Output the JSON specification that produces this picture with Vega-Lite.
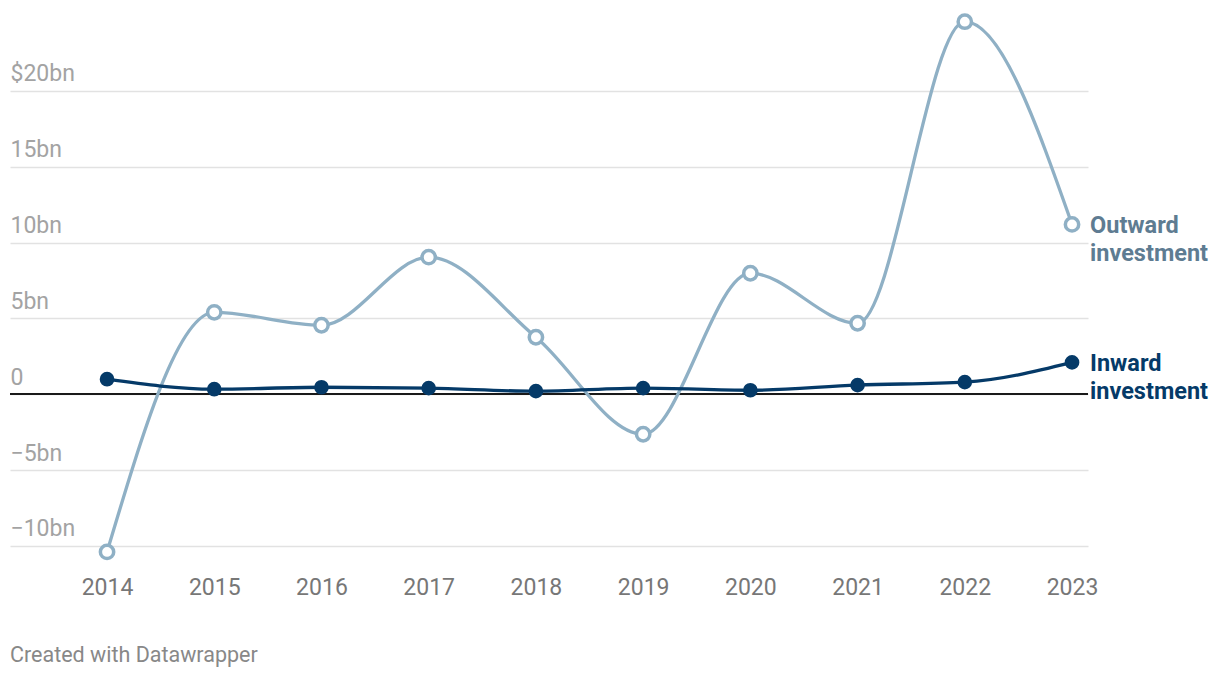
{
  "$schema": "https://vega.github.io/schema/vega-lite/v6.json",
  "width": 1078,
  "height": 561,
  "autosize": {"type": "none"},
  "padding": {"left": 10, "top": 0, "right": 132, "bottom": 117},
  "background": "white",
  "config": {
    "font": "Roboto",
    "view": {"stroke": null}
  },
  "title": {
    "text": "Created with Datawrapper",
    "orient": "bottom",
    "anchor": "start",
    "frame": "group",
    "font": "Roboto",
    "fontSize": 21.5,
    "fontWeight": "normal",
    "color": "#888888",
    "baseline": "top",
    "offset": 46
  },
  "data": {
    "values": [
      {"year": 2014, "series": "Outward investment", "value": -10.4},
      {"year": 2015, "series": "Outward investment", "value": 5.4},
      {"year": 2016, "series": "Outward investment", "value": 4.55},
      {"year": 2017, "series": "Outward investment", "value": 9.04},
      {"year": 2018, "series": "Outward investment", "value": 3.76},
      {"year": 2019, "series": "Outward investment", "value": -2.64},
      {"year": 2020, "series": "Outward investment", "value": 7.98},
      {"year": 2021, "series": "Outward investment", "value": 4.68},
      {"year": 2022, "series": "Outward investment", "value": 24.57},
      {"year": 2023, "series": "Outward investment", "value": 11.2},
      {"year": 2014, "series": "Inward investment", "value": 0.99},
      {"year": 2015, "series": "Inward investment", "value": 0.33},
      {"year": 2016, "series": "Inward investment", "value": 0.46},
      {"year": 2017, "series": "Inward investment", "value": 0.4},
      {"year": 2018, "series": "Inward investment", "value": 0.2},
      {"year": 2019, "series": "Inward investment", "value": 0.4},
      {"year": 2020, "series": "Inward investment", "value": 0.26},
      {"year": 2021, "series": "Inward investment", "value": 0.6},
      {"year": 2022, "series": "Inward investment", "value": 0.8},
      {"year": 2023, "series": "Inward investment", "value": 2.1}
    ]
  },
  "encoding": {
    "x": {
      "field": "year",
      "type": "quantitative",
      "scale": {"domain": [2013.095, 2023.149], "nice": false, "zero": false},
      "axis": {
        "title": null,
        "values": [2014, 2015, 2016, 2017, 2018, 2019, 2020, 2021, 2022, 2023],
        "format": "d",
        "grid": false,
        "domain": false,
        "ticks": false,
        "tickSize": 0,
        "labelPadding": 15,
        "labelBaseline": "top",
        "labelFont": "Roboto",
        "labelFontSize": 23,
        "labelColor": "#777777",
        "labelFlush": false
      }
    },
    "y": {
      "field": "value",
      "type": "quantitative",
      "scale": {"domain": [-11, 26], "nice": false, "zero": false},
      "axis": {
        "title": null,
        "values": [-10, -5, 0, 5, 10, 15, 20],
        "labelExpr": "datum.value == 20 ? '$20bn' : datum.value == 0 ? '0' : datum.value < 0 ? '−' + abs(datum.value) + 'bn' : datum.value + 'bn'",
        "grid": true,
        "gridColor": "#e2e2e2",
        "gridWidth": 1.5,
        "domain": false,
        "ticks": false,
        "tickSize": 0,
        "labelPadding": 0,
        "labelAlign": "left",
        "labelBaseline": "alphabetic",
        "labelOffset": -10,
        "labelFont": "Roboto",
        "labelFontSize": 23,
        "labelColor": "#a3a3a3",
        "labelFlush": false
      }
    }
  },
  "layer": [
    {
      "mark": {"type": "rule", "color": "#1a1a1a", "strokeWidth": 1.8},
      "encoding": {"y": {"datum": 0}, "x": null}
    },
    {
      "mark": {"type": "line", "interpolate": "monotone", "strokeWidth": 3.3},
      "encoding": {
        "color": {
          "field": "series",
          "type": "nominal",
          "scale": {"domain": ["Outward investment", "Inward investment"], "range": ["#8fb0c5", "#053a68"]},
          "legend": null
        }
      }
    },
    {
      "mark": {"type": "point", "shape": "circle", "filled": false, "strokeWidth": 3.5, "opacity": 1},
      "encoding": {
        "stroke": {
          "field": "series",
          "type": "nominal",
          "scale": {"domain": ["Outward investment", "Inward investment"], "range": ["#8fb0c5", "#053a68"]},
          "legend": null
        },
        "fill": {
          "condition": {"test": "datum.series == 'Outward investment'", "value": "white"},
          "value": "#053a68"
        },
        "size": {
          "condition": {"test": "datum.series == 'Outward investment'", "value": 178},
          "value": 125
        }
      }
    },
    {
      "transform": [{"filter": "datum.year == 2023"}],
      "mark": {"type": "text", "align": "left", "baseline": "middle", "dx": 18, "dy": 2, "lineBreak": " ", "lineHeight": 28, "fontSize": 23.5, "fontWeight": "bold", "font": "Roboto"},
      "encoding": {
        "text": {"field": "series"},
        "color": {
          "condition": {"test": "datum.series == 'Outward investment'", "value": "#5e7c92"},
          "value": "#053a68"
        }
      }
    }
  ]
}
